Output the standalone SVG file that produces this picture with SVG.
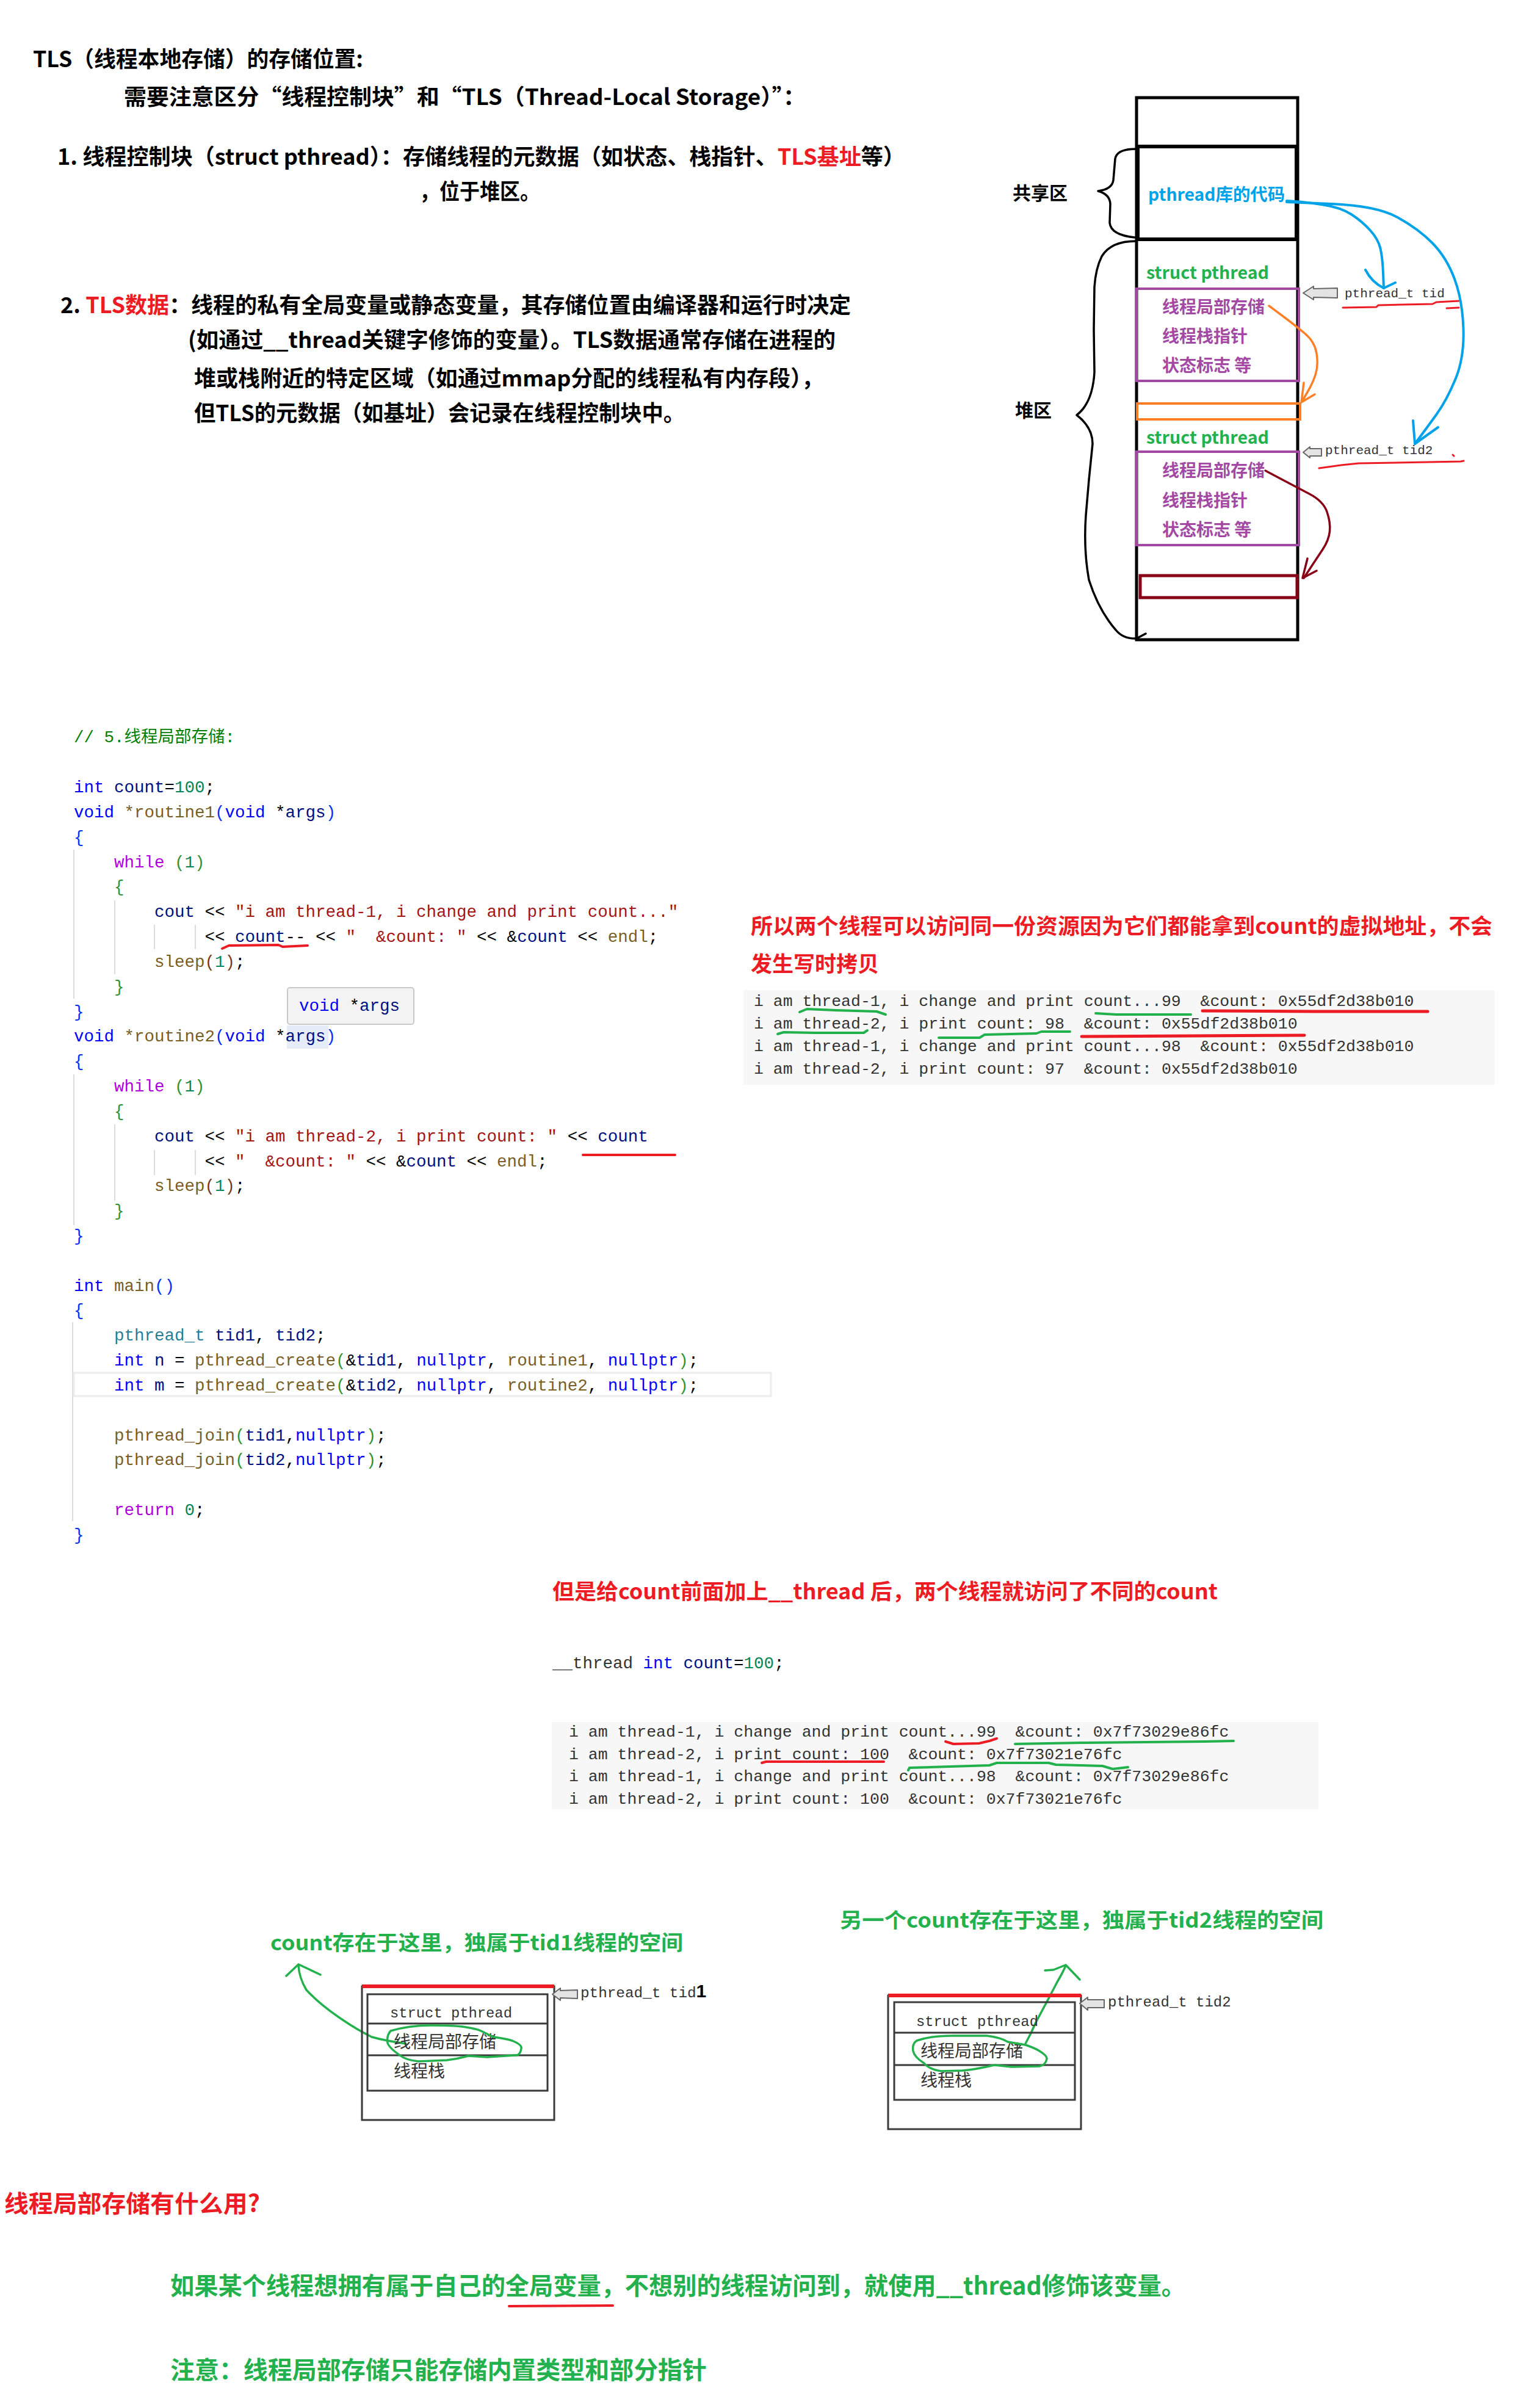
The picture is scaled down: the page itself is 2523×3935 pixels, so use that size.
<svg xmlns="http://www.w3.org/2000/svg" width="2523" height="3935" viewBox="0 0 2523 3935">
<style>
.h{font-family:"Noto Sans CJK SC","Noto Sans",sans-serif;font-weight:700}
.k{fill:#000}
.red{fill:#ed1c24}
.grn{fill:#22b14c}
.pur{fill:#a349a4}
.code{font-family:"Liberation Mono","Noto Sans CJK SC",monospace;font-size:27.5px;fill:#000;white-space:pre}
.out{font-family:"Liberation Mono","Noto Sans CJK SC",monospace;font-size:26.5px;fill:#333;white-space:pre}
.scan{font-family:"Liberation Mono","Noto Sans CJK SC",monospace;fill:#333}
.scj{font-family:"Noto Sans CJK SC",sans-serif;font-size:28px;fill:#333}
.kw{fill:#0000ff}.v{fill:#001080}.n{fill:#098658}.f{fill:#795e26}.s{fill:#a31515}.ctl{fill:#af00db}.cm{fill:#008000}.b1{fill:#0431fa}.b2{fill:#319331}.b3{fill:#7b3814}.ty{fill:#267f99}
.guide{stroke:#d0d0d0;stroke-width:1.5}
.hand{fill:none;stroke-linecap:round;stroke-linejoin:round}
.garrow{fill:#e4e4e4;stroke:#666;stroke-width:2;stroke-linejoin:round}
.box{fill:none;stroke:#3a3a3a;stroke-width:3}
</style>
<rect x="0" y="0" width="2523" height="3935" fill="#fff"/>

<g id="intro-text" class="h">
  <text class="k" x="54" y="110" font-size="36" textLength="541" lengthAdjust="spacingAndGlyphs">TLS（线程本地存储）的存储位置:</text>
  <text class="k" x="203" y="172" font-size="36" textLength="1117" lengthAdjust="spacingAndGlyphs">需要注意区分“线程控制块”和“TLS（Thread-Local Storage）”：</text>
  <text class="k" x="94" y="270" font-size="36" textLength="1389" lengthAdjust="spacingAndGlyphs">1. 线程控制块（struct pthread）：存储线程的元数据（如状态、栈指针、<tspan class="red">TLS基址</tspan>等）</text>
  <text class="k" x="687" y="327" font-size="36" textLength="198" lengthAdjust="spacingAndGlyphs">，位于堆区。</text>
  <text class="k" x="99" y="513" font-size="36" textLength="1295" lengthAdjust="spacingAndGlyphs">2. <tspan class="red">TLS数据</tspan>：线程的私有全局变量或静态变量，其存储位置由编译器和运行时决定</text>
  <text class="k" x="308" y="570" font-size="36" textLength="1061" lengthAdjust="spacingAndGlyphs">(如通过__thread关键字修饰的变量）。TLS数据通常存储在进程的</text>
  <text class="k" x="318" y="633" font-size="36" textLength="1031" lengthAdjust="spacingAndGlyphs">堆或栈附近的特定区域（如通过mmap分配的线程私有内存段），</text>
  <text class="k" x="318" y="690" font-size="36" textLength="804" lengthAdjust="spacingAndGlyphs">但TLS的元数据（如基址）会记录在线程控制块中。</text>
</g>

<g id="memory-diagram">
  <g id="labels" class="h k" font-size="30">
    <text x="1659" y="327">共享区</text>
    <text x="1663" y="683">堆区</text>
  </g>
  <g id="braces" class="hand" stroke="#000" stroke-width="3.5">
    <path d="M1861,244 Q1830,244 1827,260 L1824,295 Q1822,310 1799,313 Q1818,318 1819,334 L1818,365 Q1820,385 1859,389"/>
    <path d="M1861,395 Q1820,395 1805,420 Q1795,440 1793,470 L1792,540 L1793,610 Q1790,660 1764,680 Q1790,700 1790,727 L1784,786 L1779,844 Q1775,900 1784,950 Q1800,1000 1828,1032 Q1840,1047 1862,1046 M1877,1038 L1862,1046"/>
  </g>
  <g id="column">
    <rect x="1862" y="160" width="264" height="888" fill="none" stroke="#000" stroke-width="5"/>
    <rect x="1864" y="240" width="260" height="152" fill="none" stroke="#000" stroke-width="6"/>
  </g>
  <g id="pthread-lib">
    <text class="h" x="1881" y="329" font-size="28" fill="#00a2e8" textLength="224" lengthAdjust="spacingAndGlyphs">pthread库的代码</text>
  </g>
  <g id="struct1">
    <text class="h grn" x="1878" y="457" font-size="28" textLength="201" lengthAdjust="spacingAndGlyphs">struct pthread</text>
    <rect x="1862" y="473" width="266" height="151" fill="none" stroke="#a349a4" stroke-width="4"/>
    <text class="h pur" x="1904" y="513" font-size="28">线程局部存储</text>
    <text class="h pur" x="1904" y="561" font-size="28">线程栈指针</text>
    <text class="h pur" x="1904" y="609" font-size="28">状态标志 等</text>
  </g>
  <g id="tls-block1">
    <rect x="1863" y="661" width="267" height="26" fill="none" stroke="#ff7f27" stroke-width="4"/>
  </g>
  <g id="struct2">
    <text class="h grn" x="1878" y="727" font-size="28" textLength="201" lengthAdjust="spacingAndGlyphs">struct pthread</text>
    <rect x="1862" y="740" width="266" height="153" fill="none" stroke="#a349a4" stroke-width="4"/>
    <text class="h pur" x="1904" y="781" font-size="28">线程局部存储</text>
    <text class="h pur" x="1904" y="830" font-size="28">线程栈指针</text>
    <text class="h pur" x="1904" y="878" font-size="28">状态标志 等</text>
  </g>
  <g id="tls-block2">
    <rect x="1868" y="943" width="257" height="36" fill="none" stroke="#880015" stroke-width="5"/>
  </g>
  <g id="tid-label">
    <polygon class="garrow" points="2135,480 2152,469 2152,473 2191,472 2191,488 2152,487 2152,491"/>
    <text class="scan" x="2203" y="487" font-size="21">pthread_t tid</text>
    <path class="hand" stroke="#ed1c24" stroke-width="3" d="M2200,504 L2255,503 L2258,500 L2347,498 L2353,495 L2390,493 M2370,505 L2390,504"/>
  </g>
  <g id="tid2-label">
    <polygon class="garrow" points="2135,741 2146,732 2146,735 2165,735 2165,747 2146,747 2146,750"/>
    <text class="scan" x="2171" y="744" font-size="21">pthread_t tid2</text>
    <path class="hand" stroke="#ed1c24" stroke-width="3" d="M2161,767 L2197,762 L2226,759 L2393,756 L2398,755 M2380,745 L2382,747"/>
  </g>
</g>

<g id="connectors" class="hand">
  <g stroke="#00a2e8" stroke-width="4">
    <path d="M2108,329 L2123.5,330 Q2139,331 2168,335.5 Q2197,340 2214.5,351.5 Q2232,363 2245,377.5 Q2258,392 2261.5,407 Q2265,422 2266,447 L2267,472"/>
    <path d="M2237,442 Q2247,462 2267,472 L2286,463"/>
    <path d="M2108,331 L2181.5,334 Q2255,337 2289.5,356 Q2324,375 2347,398.5 Q2370,422 2383,457 Q2396,492 2397.5,539 Q2399,586 2384.5,621 Q2370,656 2353,679.5 Q2336,703 2327,715 L2318,727"/>
    <path d="M2315,689 L2318,727 L2356,700"/>
  </g>
  <g stroke="#ff7f27" stroke-width="3.5">
    <path d="M2079,501 L2100.5,517 Q2122,533 2138,546.5 Q2154,560 2157,579 Q2160,598 2155.5,612.5 Q2151,627 2142.5,641.5 L2134,656"/>
    <path d="M2136,627 L2132,659 L2154,646"/>
  </g>
  <g stroke="#880015" stroke-width="3.5">
    <path d="M2073,771 L2097.5,784 Q2122,797 2145,809 Q2168,821 2174,838.5 Q2180,856 2178.5,870.5 Q2177,885 2167,900 Q2157,915 2146.5,931 L2136,947"/>
    <path d="M2142,915 L2134,947 L2157,935"/>
  </g>
  <g stroke="#22b14c" stroke-width="3.5">
    <path d="M665,3348 Q630,3343 609,3337 Q585,3325 563,3310 Q525,3285 502,3260 Q490,3240 489,3220"/>
    <path d="M469,3237 L489,3218 L525,3235"/>
    <path d="M1680,3348 Q1690,3330 1697,3313 Q1715,3280 1732,3247 Q1742,3230 1746,3220"/>
    <path d="M1712,3228 L1726,3227 L1746,3219 L1769,3243"/>
  </g>
</g>

<g id="code">
  <g class="guides">
    <line class="guide" x1="121" y1="1392" x2="121" y2="1636"/>
    <line class="guide" x1="188" y1="1475" x2="188" y2="1596"/>
    <line class="guide" x1="253" y1="1515" x2="253" y2="1555"/>
    <line class="guide" x1="320" y1="1515" x2="320" y2="1555"/>
    <line class="guide" x1="121" y1="1760" x2="121" y2="2007"/>
    <line class="guide" x1="188" y1="1842" x2="188" y2="1967"/>
    <line class="guide" x1="253" y1="1884" x2="253" y2="1925"/>
    <line class="guide" x1="320" y1="1884" x2="320" y2="1925"/>
    <line class="guide" x1="119" y1="2166" x2="119" y2="2492"/>
  </g>
  <rect x="121" y="2249" width="1142" height="38" fill="none" stroke="#ececec" stroke-width="3"/>
  <rect x="470" y="1680" width="68" height="38" fill="#e6edf8"/>
  <g class="code">
  <text class="cm" x="121" y="1216">// 5.线程局部存储:</text>
  <text x="121" y="1298"><tspan class="kw">int</tspan> <tspan class="v">count</tspan>=<tspan class="n">100</tspan>;</text>
  <text x="121" y="1339"><tspan class="kw">void</tspan> <tspan class="f">*routine1</tspan><tspan class="b1">(</tspan><tspan class="kw">void</tspan> *<tspan class="v">args</tspan><tspan class="b1">)</tspan></text>
  <text x="121" y="1380" class="b1">{</text>
  <text x="187" y="1421"><tspan class="ctl">while</tspan> <tspan class="b2">(</tspan><tspan class="n">1</tspan><tspan class="b2">)</tspan></text>
  <text x="187" y="1461" class="b2">{</text>
  <text x="253" y="1502"><tspan class="v">cout</tspan> &lt;&lt; <tspan class="s">"i am thread-1, i change and print count..."</tspan></text>
  <text x="335.5" y="1543">&lt;&lt; <tspan class="v">count</tspan>-- &lt;&lt; <tspan class="s">" &#160;&amp;count: "</tspan> &lt;&lt; &amp;<tspan class="v">count</tspan> &lt;&lt; <tspan class="f">endl</tspan>;</text>
  <text x="253" y="1584"><tspan class="f">sleep</tspan><tspan class="b3">(</tspan><tspan class="n">1</tspan><tspan class="b3">)</tspan>;</text>
  <text x="187" y="1625" class="b2">}</text>
  <text x="121" y="1666" class="b1">}</text>
  <text x="121" y="1706"><tspan class="kw">void</tspan> <tspan class="f">*routine2</tspan><tspan class="b1">(</tspan><tspan class="kw">void</tspan> *<tspan class="v">args</tspan><tspan class="b1">)</tspan></text>
  <text x="121" y="1747" class="b1">{</text>
  <text x="187" y="1788"><tspan class="ctl">while</tspan> <tspan class="b2">(</tspan><tspan class="n">1</tspan><tspan class="b2">)</tspan></text>
  <text x="187" y="1829" class="b2">{</text>
  <text x="253" y="1870"><tspan class="v">cout</tspan> &lt;&lt; <tspan class="s">"i am thread-2, i print count: "</tspan> &lt;&lt; <tspan class="v">count</tspan></text>
  <text x="335.5" y="1911">&lt;&lt; <tspan class="s">" &#160;&amp;count: "</tspan> &lt;&lt; &amp;<tspan class="v">count</tspan> &lt;&lt; <tspan class="f">endl</tspan>;</text>
  <text x="253" y="1951"><tspan class="f">sleep</tspan><tspan class="b3">(</tspan><tspan class="n">1</tspan><tspan class="b3">)</tspan>;</text>
  <text x="187" y="1992" class="b2">}</text>
  <text x="121" y="2033" class="b1">}</text>
  <text x="121" y="2115"><tspan class="kw">int</tspan> <tspan class="f">main</tspan><tspan class="b1">()</tspan></text>
  <text x="121" y="2155" class="b1">{</text>
  <text x="187" y="2196"><tspan class="ty">pthread_t</tspan> <tspan class="v">tid1</tspan>, <tspan class="v">tid2</tspan>;</text>
  <text x="187" y="2237"><tspan class="kw">int</tspan> <tspan class="v">n</tspan> = <tspan class="f">pthread_create</tspan><tspan class="b2">(</tspan>&amp;<tspan class="v">tid1</tspan>, <tspan class="kw">nullptr</tspan>, <tspan class="f">routine1</tspan>, <tspan class="kw">nullptr</tspan><tspan class="b2">)</tspan>;</text>
  <text x="187" y="2278"><tspan class="kw">int</tspan> <tspan class="v">m</tspan> = <tspan class="f">pthread_create</tspan><tspan class="b2">(</tspan>&amp;<tspan class="v">tid2</tspan>, <tspan class="kw">nullptr</tspan>, <tspan class="f">routine2</tspan>, <tspan class="kw">nullptr</tspan><tspan class="b2">)</tspan>;</text>
  <text x="187" y="2360"><tspan class="f">pthread_join</tspan><tspan class="b2">(</tspan><tspan class="v">tid1</tspan>,<tspan class="kw">nullptr</tspan><tspan class="b2">)</tspan>;</text>
  <text x="187" y="2400"><tspan class="f">pthread_join</tspan><tspan class="b2">(</tspan><tspan class="v">tid2</tspan>,<tspan class="kw">nullptr</tspan><tspan class="b2">)</tspan>;</text>
  <text x="187" y="2482"><tspan class="ctl">return</tspan> <tspan class="n">0</tspan>;</text>
  <text x="121" y="2523" class="b1">}</text>
  </g>
  <path class="hand" stroke="#ed1c24" stroke-width="4" d="M364,1554 L375,1549 L456,1548 L463,1551 L504,1549"/>
  <path class="hand" stroke="#ed1c24" stroke-width="4" d="M955,1892 L1106,1892"/>
</g>

<g id="tooltip">
  <rect x="471" y="1618" width="207" height="60" rx="4" fill="#f3f3f3" stroke="#c8c8c8" stroke-width="2"/>
  <text class="code" x="490" y="1656"><tspan class="kw">void</tspan> *<tspan class="v">args</tspan></text>
</g>

<g id="note-shared" class="h red" font-size="35">
  <text x="1230" y="1530" textLength="1215" lengthAdjust="spacingAndGlyphs">所以两个线程可以访问同一份资源因为它们都能拿到count的虚拟地址，不会</text>
  <text x="1230" y="1592" textLength="210" lengthAdjust="spacingAndGlyphs">发生写时拷贝</text>
</g>

<g id="output1">
  <rect x="1218" y="1622" width="1231" height="155" fill="#f7f7f7"/>
  <g class="out">
    <text x="1235" y="1648">i am thread-1, i change and print count...99 &#160;&amp;count: 0x55df2d38b010</text>
    <text x="1235" y="1685">i am thread-2, i print count: 98 &#160;&amp;count: 0x55df2d38b010</text>
    <text x="1235" y="1722">i am thread-1, i change and print count...98 &#160;&amp;count: 0x55df2d38b010</text>
    <text x="1235" y="1759">i am thread-2, i print count: 97 &#160;&amp;count: 0x55df2d38b010</text>
  </g>
  <g class="hand" stroke-width="4">
    <path stroke="#22b14c" d="M1310,1658 L1322,1653 L1369,1655 L1436,1657 L1451,1662"/>
    <path stroke="#22b14c" d="M1795,1660 L1829,1662 L1951,1662"/>
    <path stroke="#ed1c24" stroke-width="5" d="M1970,1656 L2154,1657 L2339,1657"/>
    <path stroke="#22b14c" d="M1274,1694 L1284,1691 L1335,1692 L1415,1692 L1421,1688"/>
    <path stroke="#22b14c" d="M1538,1700 L1605,1700 L1613,1695 L1698,1693 L1706,1690 L1753,1690"/>
    <path stroke="#ed1c24" stroke-width="5" d="M1772,1698 L2137,1696"/>
  </g>
</g>

<g id="note-thread" class="h red" font-size="35">
  <text x="905" y="2620" textLength="1090" lengthAdjust="spacingAndGlyphs">但是给count前面加上__thread 后，两个线程就访问了不同的count</text>
</g>

<g id="thread-decl">
  <text class="code" x="905" y="2733"><tspan fill="#333">__thread</tspan> <tspan class="kw">int</tspan> <tspan class="v">count</tspan>=<tspan class="n">100</tspan>;</text>
</g>

<g id="output2">
  <rect x="904" y="2821" width="1256" height="143" fill="#f7f7f7"/>
  <g class="out">
    <text x="932" y="2845">i am thread-1, i change and print count...99 &#160;&amp;count: 0x7f73029e86fc</text>
    <text x="932" y="2882">i am thread-2, i print count: 100 &#160;&amp;count: 0x7f73021e76fc</text>
    <text x="932" y="2918">i am thread-1, i change and print count...98 &#160;&amp;count: 0x7f73029e86fc</text>
    <text x="932" y="2955">i am thread-2, i print count: 100 &#160;&amp;count: 0x7f73021e76fc</text>
  </g>
  <g class="hand" stroke-width="4">
    <path stroke="#ed1c24" d="M1549,2853 L1562,2857 L1604,2856 L1621,2852 L1633,2848"/>
    <path stroke="#22b14c" d="M1663,2857 L1772,2855 L1974,2853 L2021,2852"/>
    <path stroke="#ed1c24" d="M1248,2888 L1255,2886 L1448,2886"/>
    <path stroke="#22b14c" d="M1488,2900 L1490,2896 L1621,2892 L1633,2888 L1718,2888 L1730,2891 L1806,2893 L1823,2898 L1848,2895"/>
  </g>
</g>

<g id="tid1-struct">
  <text class="h grn" x="443" y="3195" font-size="34" textLength="676" lengthAdjust="spacingAndGlyphs">count存在于这里，独属于tid1线程的空间</text>
  <rect class="box" x="593" y="3254" width="315" height="219"/>
  <line x1="593" y1="3254" x2="908" y2="3254" stroke="#ed1c24" stroke-width="6"/>
  <rect class="box" x="602" y="3267" width="295" height="158"/>
  <line x1="602" y1="3315" x2="897" y2="3315" stroke="#3a3a3a" stroke-width="3"/>
  <line x1="602" y1="3367" x2="897" y2="3367" stroke="#3a3a3a" stroke-width="3"/>
  <text class="scan" x="639" y="3305" font-size="23.8">struct pthread</text>
  <text class="scj" x="645" y="3355">线程局部存储</text>
  <text class="scj" x="645" y="3403">线程栈</text>
  <polygon class="garrow" points="905,3267 918,3257 918,3261 946,3260 946,3274 918,3273 918,3277"/>
  <text class="scan" x="951" y="3272" font-size="24.3">pthread_t tid<tspan font-family="Liberation Sans" font-weight="700" font-size="30" fill="#000">1</tspan></text>
  <path class="hand" stroke="#22b14c" stroke-width="3.5" d="M640,3327 Q670,3318 706,3318 Q740,3318 757,3320 Q780,3323 788,3327 L808,3337 Q830,3340 839,3343 Q856,3350 854,3356 Q852,3368 844,3367 L798,3370 L767,3368 Q750,3373 732,3375 L686,3377 Q665,3375 655,3367 Q638,3355 635,3347 Q633,3335 640,3327"/>
</g>

<g id="tid2-struct">
  <text class="h grn" x="1376" y="3158" font-size="34" textLength="792" lengthAdjust="spacingAndGlyphs">另一个count存在于这里，独属于tid2线程的空间</text>
  <rect class="box" x="1455" y="3269" width="316" height="219"/>
  <line x1="1455" y1="3269" x2="1771" y2="3269" stroke="#ed1c24" stroke-width="6"/>
  <rect class="box" x="1465" y="3280" width="296" height="160"/>
  <line x1="1465" y1="3330" x2="1761" y2="3330" stroke="#3a3a3a" stroke-width="3"/>
  <line x1="1465" y1="3383" x2="1761" y2="3383" stroke="#3a3a3a" stroke-width="3"/>
  <text class="scan" x="1501" y="3319" font-size="23.8">struct pthread</text>
  <text class="scj" x="1508" y="3370">线程局部存储</text>
  <text class="scj" x="1508" y="3418">线程栈</text>
  <polygon class="garrow" points="1769,3282 1782,3272 1782,3276 1809,3276 1809,3289 1782,3289 1782,3293"/>
  <text class="scan" x="1815" y="3287" font-size="24">pthread_t tid2</text>
  <path class="hand" stroke="#22b14c" stroke-width="3.5" d="M1502,3343 Q1525,3335 1560,3335 L1617,3335 Q1640,3338 1651,3345 L1680,3350 Q1695,3355 1703,3360 Q1716,3368 1715,3373 Q1713,3383 1703,3385 L1657,3386 L1629,3383 Q1600,3390 1577,3392 L1542,3393 Q1522,3390 1514,3380 Q1498,3370 1496,3360 Q1494,3348 1502,3343"/>
</g>

<g id="summary" class="h">
  <text class="red" x="7" y="3624" font-size="39" textLength="419" lengthAdjust="spacingAndGlyphs">线程局部存储有什么用?</text>
  <text class="grn" x="279" y="3759" font-size="40" textLength="1663" lengthAdjust="spacingAndGlyphs">如果某个线程想拥有属于自己的全局变量，不想别的线程访问到，就使用__thread修饰该变量。</text>
  <path class="hand" stroke="#ed1c24" stroke-width="4" d="M834,3778 L1004,3777"/>
  <text class="grn" x="279" y="3897" font-size="40" textLength="879" lengthAdjust="spacingAndGlyphs">注意：线程局部存储只能存储内置类型和部分指针</text>
</g>
</svg>
